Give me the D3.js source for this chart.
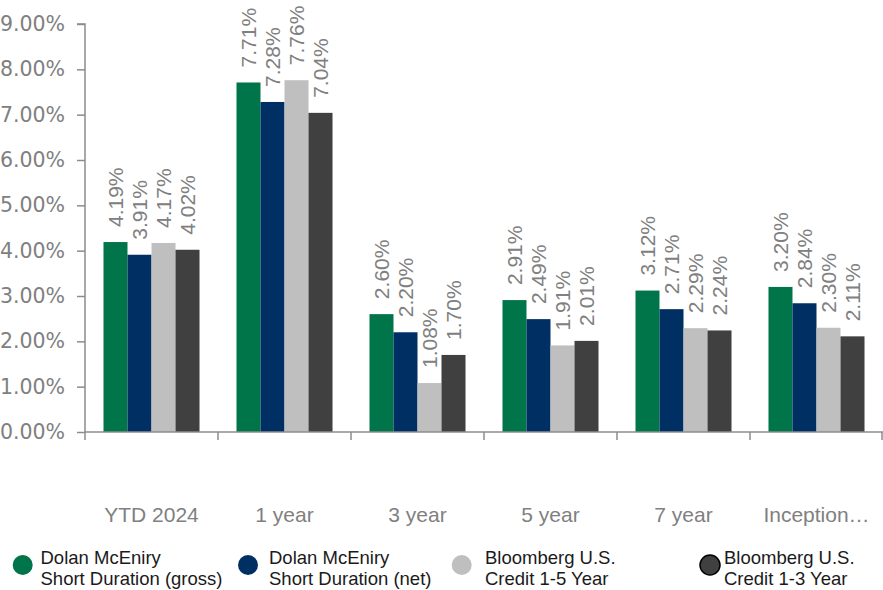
<!DOCTYPE html>
<html>
<head>
<meta charset="utf-8">
<script src="https://cdn.jsdelivr.net/npm/d3@7"></script>
<style>
  html, body { margin: 0; padding: 0; background: #fff; }
  svg { display: block; }
</style>
</head>
<body>
<svg id="chart" width="883" height="590"></svg>
<script>
const categories = ["YTD 2024", "1 year", "3 year", "5 year", "7 year", "Inception…"];
const seriesNames = [
  ["Dolan McEniry", "Short Duration (gross)"],
  ["Dolan McEniry", "Short Duration (net)"],
  ["Bloomberg U.S.", "Credit 1-5 Year"],
  ["Bloomberg U.S.", "Credit 1-3 Year"]
];
const grossValues = [4.19, 7.71, 2.60, 2.91, 3.12, 3.20];
const netValues   = [3.91, 7.28, 2.20, 2.49, 2.71, 2.84];
const credit15    = [4.17, 7.76, 1.08, 1.91, 2.29, 2.30];
const credit13    = [4.02, 7.04, 1.70, 2.01, 2.24, 2.11];
const yTicks = [0, 1, 2, 3, 4, 5, 6, 7, 8, 9];
const colors = ["#00754a", "#003063", "#bfbfbf", "#404040"];

const allSeries = [grossValues, netValues, credit15, credit13];
const svg = d3.select("#chart");

const mLeft = 85, mRight = 883, mTop = 24, mBottom = 432;
const grey = "#8c8c8c";
const labelGrey = "#808080";

const y = d3.scaleLinear().domain([0, 9]).range([mBottom, mTop]);
const xCat = d3.scaleBand().domain(categories).range([mLeft, mRight]).padding(0);
const xGroup = d3.scaleBand().domain(categories).range([mLeft, mRight])
  .paddingInner(0.278).paddingOuter(0.139);
const xSeries = d3.scaleBand().domain(d3.range(allSeries.length)).range([0, xGroup.bandwidth()]);

// Y axis
const yAxis = d3.axisLeft(y).tickValues(yTicks).tickSize(8).tickPadding(12)
  .tickFormat(d => d3.format(".2f")(d) + "%");
const gy = svg.append("g").attr("transform", `translate(${mLeft},0)`).call(yAxis);
gy.select(".domain").attr("stroke", grey).attr("stroke-width", 1.5).attr("d", `M-8,${mTop}H0V${mBottom}`);
gy.selectAll(".tick line").attr("stroke", grey).attr("stroke-width", 1.5);
gy.selectAll(".tick text").attr("fill", labelGrey)
  .style("font-family", "'DejaVu Sans', sans-serif").style("font-size", "20.5px");

// Bars
const groups = svg.append("g").selectAll("g").data(categories).join("g")
  .attr("transform", d => `translate(${xGroup(d)},0)`);
groups.selectAll("rect")
  .data((c, i) => allSeries.map((s, k) => ({ k, v: s[i] })))
  .join("rect")
  .attr("x", d => xSeries(d.k))
  .attr("width", xSeries.bandwidth())
  .attr("y", d => y(d.v))
  .attr("height", d => y(0) - y(d.v))
  .attr("fill", d => colors[d.k]);

// Value labels
groups.selectAll("text.val")
  .data((c, i) => allSeries.map((s, k) => ({ k, v: s[i] })))
  .join("text")
  .attr("class", "val")
  .attr("transform", d => `translate(${xSeries(d.k) + xSeries.bandwidth() / 2},${y(d.v) - 15}) rotate(-90)`)
  .attr("dy", "0.35em")
  .attr("text-anchor", "start")
  .attr("fill", labelGrey)
  .style("font-family", "'Liberation Sans', Arial, sans-serif")
  .style("font-size", "21px")
  .text(d => d3.format(".2f")(d.v) + "%");

// X axis
const gx = svg.append("g");
gx.append("line").attr("x1", mLeft).attr("x2", mRight).attr("y1", mBottom).attr("y2", mBottom)
  .attr("stroke", grey).attr("stroke-width", 1.5);
const boundaries = categories.map(c => xCat(c)).concat([xCat.range()[1] - 1]);
gx.selectAll("line.tk").data(boundaries).join("line").attr("class", "tk")
  .attr("x1", d => d).attr("x2", d => d).attr("y1", mBottom).attr("y2", mBottom + 8)
  .attr("stroke", grey).attr("stroke-width", 1.5);
gx.selectAll("text").data(categories).join("text")
  .attr("x", d => xCat(d) + xCat.bandwidth() / 2)
  .attr("y", 522)
  .attr("text-anchor", "middle")
  .attr("fill", labelGrey)
  .style("font-family", "'Liberation Sans', Arial, sans-serif")
  .style("font-size", "21px")
  .text(d => d);

// Legend
const legendX = [22.7, 248, 461.7, 710];
const legendTextX = [40.5, 269, 485, 724];
const lg = svg.append("g").selectAll("g").data(seriesNames).join("g");
lg.append("circle")
  .attr("cx", (d, i) => legendX[i]).attr("cy", 565).attr("r", 10)
  .attr("fill", (d, i) => colors[i])
  .attr("stroke", (d, i) => i === 3 ? "#000" : "none").attr("stroke-width", 1.5);
lg.append("text")
  .attr("x", (d, i) => legendTextX[i]).attr("y", 564)
  .attr("fill", "#1a1a1a")
  .style("font-family", "'Liberation Sans', Arial, sans-serif")
  .style("font-size", "18.5px")
  .selectAll("tspan").data(d => d).join("tspan")
  .attr("x", function () { return d3.select(this.parentNode).attr("x"); })
  .attr("dy", (d, j) => j === 0 ? 0 : 20.5)
  .text(d => d);
</script>
</body>
</html>
